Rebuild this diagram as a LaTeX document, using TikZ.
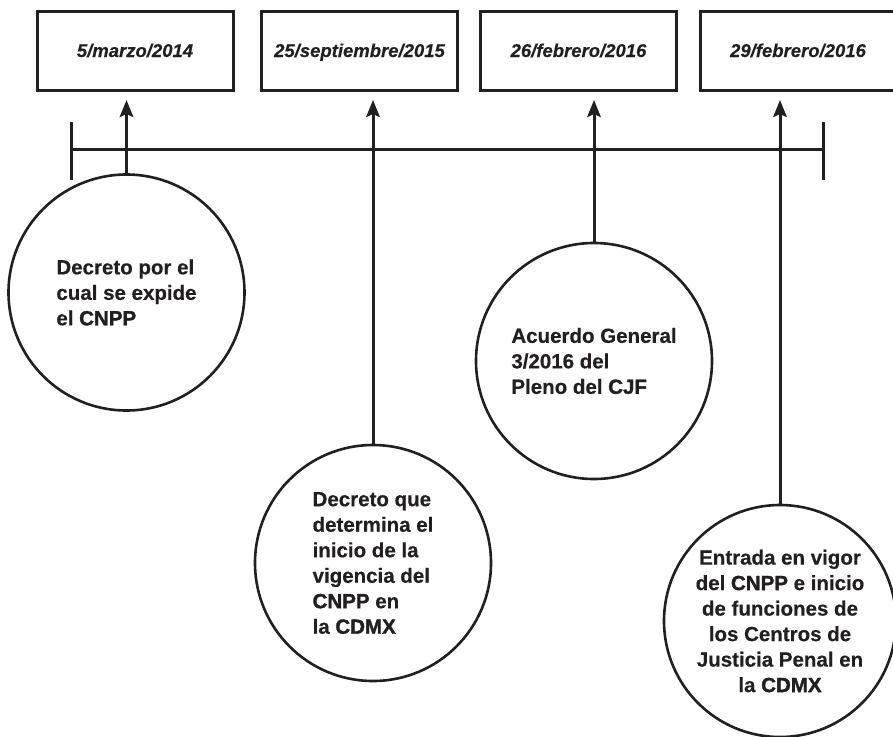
\documentclass[tikz,border=0pt]{standalone}
\usepackage{fontspec}
\setmainfont{Liberation Sans}
\newfontfamily\evfont[FakeBold=0.4]{Liberation Sans Bold}
\newfontfamily\heavyfont[FakeBold=1.6]{Liberation Sans Bold}
\newfontfamily\datefont[FakeBold=0.3]{Liberation Sans Bold Italic}
\usetikzlibrary{arrows.meta}
\definecolor{ink}{HTML}{231F20}
\newcommand{\hv}[1]{{\heavyfont #1}}
\begin{document}
\begin{tikzpicture}[x=1pt,y=-1pt,
  datebox/.style={draw=ink, line width=3pt, minimum width=196pt, minimum height=79pt, inner sep=0pt, text height=13pt, text depth=0pt, text=ink, font=\fontsize{18.5}{22}\datefont},
  event/.style={circle, draw=ink, line width=2.6pt, inner sep=0pt, minimum size=236pt, text=ink, font=\fontsize{20.5}{25.5}\evfont},
  arr/.style={draw=ink, line width=3pt, -{Stealth[length=17pt,width=13.5pt,inset=3pt]}},
  axis/.style={draw=ink, line width=3pt}]
\useasboundingbox (0,0) rectangle (893,736);
% date boxes
\node[datebox] (d1) at (135,50.5) {5/marzo/2014};
\node[datebox] (d2) at (359.5,50.5) {25/septiembre/2015};
\node[datebox] (d3) at (578.5,50.5) {26/febrero/2016};
\node[datebox] (d4) at (798,50.5) {29/febrero/2016};
% timeline
\coordinate (tl) at (71,149);
\coordinate (tr) at (823,149);
\coordinate (tlt) at (71,122);
\coordinate (tlb) at (71,180);
\coordinate (trt) at (823,122);
\coordinate (trb) at (823,180);
\draw[axis] (tl) -- (tr);
\draw[axis] (tlt) -- (tlb);
\draw[axis] (trt) -- (trb);
% events
\node[event, align=left] (e1) at (126.5,292.5) {Decreto por el\\cual se expide\\el \hv{CNPP}};
\node[event, align=left] (e2) at (373,563) {Decreto que\\determina el\\inicio de la\\vigencia del\\\hv{CNPP} en\\la \hv{CDMX}};
\node[event, align=left] (e3) at (594,361) {Acuerdo General\\3/2016 del\\Pleno del \hv{CJF}};
\node[event, align=center, minimum size=232pt] (e4) at (780,621) {Entrada en vigor\\del \hv{CNPP} e inicio\\de funciones de\\los Centros de\\Justicia Penal en\\la \hv{CDMX}};
% arrows
\coordinate (tipline) at (0,100);
\draw[arr] (e1.north) -- (e1.north |- tipline);
\draw[arr] (e2.north) -- (e2.north |- tipline);
\draw[arr] (e3.north) -- (e3.north |- tipline);
\draw[arr] (e4.north) -- (e4.north |- tipline);
\end{tikzpicture}
\end{document}
